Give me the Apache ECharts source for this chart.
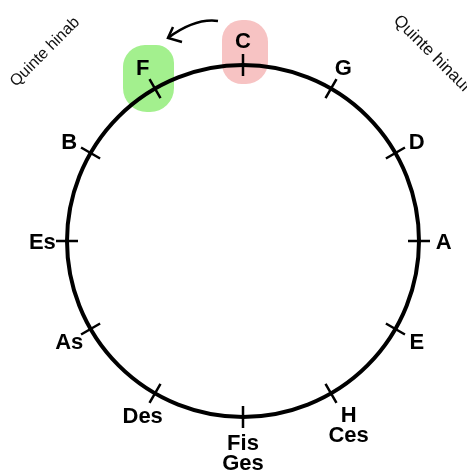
<!DOCTYPE html>
<html>
<head>
<meta charset="utf-8">
<script src="https://cdn.jsdelivr.net/npm/echarts@6/dist/echarts.min.js"></script>
<style>
html,body{margin:0;padding:0;background:#fff;}
#chart{width:467px;height:475px;}
</style>
</head>
<body>
<div id="chart"></div>
<script>
// circle of fifths, clockwise from the top
var notes = ['C', 'G', 'D', 'A', 'E', 'H\nCes', 'Fis\nGes', 'Des', 'As', 'Es', 'B', 'F'];
var upText = 'Quinte hinauf';
var downText = 'Quinte hinab';

var labelFont = '"Liberation Sans", Arial, sans-serif';
var cx = 243, cy = 241, rad = 176;

var myChart = echarts.init(document.getElementById('chart'));

// band centers sit on the ticks: shift start by half a band
var angleBase = {
	type: 'category',
	data: notes,
	startAngle: 90 + 180 / notes.length,
	clockwise: true,
	splitLine: {show: false},
	axisLabel: {show: false}
};

var labelData = notes.map(function(n){
	var two = n.indexOf('\n') >= 0;
	return {name: n, value: [two ? 1.2 : 1.14, n]};
});

var option = {
	animation: false,
	polar: [
		{center: [cx, cy], radius: rad},
		{center: [cx, cy], radius: rad}
	],
	radiusAxis: [
		{polarIndex: 0, type: 'value', min: 0, max: 1, show: false},
		{polarIndex: 1, type: 'value', min: 0, max: 1, show: false}
	],
	angleAxis: [
		echarts.util.merge({
			polarIndex: 0,
			axisLine: {lineStyle: {color: '#000', width: 4}},
			axisTick: {show: true, alignWithLabel: true, inside: false, length: 11, lineStyle: {color: '#000', width: 2.5}}
		}, angleBase),
		echarts.util.merge({
			polarIndex: 1,
			axisLine: {show: false},
			axisTick: {show: true, alignWithLabel: true, inside: true, length: 11, lineStyle: {color: '#000', width: 2.5}}
		}, angleBase)
	],
	series: [{
		type: 'scatter',
		coordinateSystem: 'polar',
		polarIndex: 0,
		clip: false,
		symbolSize: 2,
		// scatter defaults to 0.8 opacity, which greys the labels
		itemStyle: {color: 'rgba(0,0,0,0)', opacity: 1},
		label: {
			show: true,
			position: 'inside',
			offset: [0, 2],
			formatter: '{b}',
			color: '#000',
			fontSize: 22,
			fontWeight: 'bold',
			fontFamily: labelFont,
			lineHeight: 20,
			align: 'center',
			verticalAlign: 'middle'
		},
		data: labelData
	}],
	graphic: [
		// highlight blobs behind C and F
		{type: 'rect', z: -10, shape: {x: 222, y: 20, width: 46, height: 64, r: [20, 22, 22, 20]},
			style: {fill: '#f7c3c3'}},
		{type: 'rect', z: -10, shape: {x: 123, y: 45, width: 51, height: 67, r: [22, 18, 24, 24]},
			style: {fill: '#a3f08e'}},
		// arrow C -> F
		{type: 'bezierCurve', z: 10, shape: {x1: 218, y1: 21, x2: 168, y2: 38, cpx1: 195, cpy1: 18},
			style: {stroke: '#000', lineWidth: 2.5, fill: null}},
		{type: 'polyline', z: 10, shape: {points: [[173, 27], [168, 38], [182, 42]]},
			style: {stroke: '#000', lineWidth: 2.5, fill: null}},
		{type: 'text', x: 45, y: 52, rotation: Math.PI / 4,
			style: {text: downText, font: '16px ' + labelFont, fill: '#111', align: 'center', verticalAlign: 'middle'}},
		{type: 'text', x: 396, y: 18, rotation: -Math.PI / 4,
			style: {text: upText, font: '17px ' + labelFont, fill: '#111', align: 'left', verticalAlign: 'middle'}}
	]
};
myChart.setOption(option);
</script>
</body>
</html>
